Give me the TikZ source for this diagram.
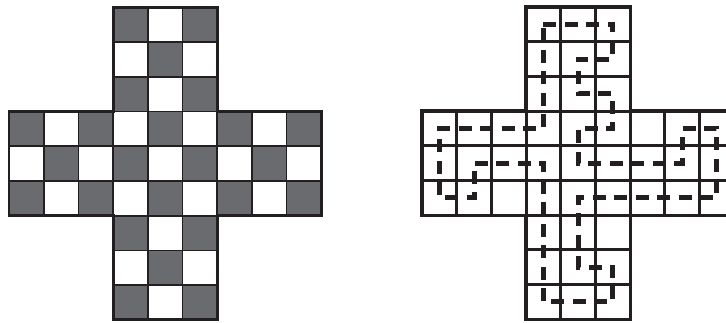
\documentclass[tikz,border=0pt]{standalone}
\usepackage{xcolor}
\usepackage{tikz}
\definecolor{boardgray}{RGB}{106,107,111}
\definecolor{inkblack}{RGB}{35,31,32}

\begin{document}
\begin{tikzpicture}[x=34.7pt, y=-34.7pt,
  gridline/.style={draw=inkblack, line width=1.7pt},
  rim/.style={draw=inkblack, line width=2.8pt, line join=miter},
  tourline/.style={draw=inkblack, line width=5pt, dash pattern=on 13pt off 8.5pt}
]
  \useasboundingbox (0,0) rectangle (20.922,9.280);
  % left board: checkered cross
  \begin{scope}[shift={(0.26,0.216)}]
    \foreach \r in {0,...,8}
      \foreach \c in {0,...,8} {
        \pgfmathtruncatemacro{\incross}{((\r>2)&&(\r<6))||((\c>2)&&(\c<6))}
        \pgfmathtruncatemacro{\isodd}{mod(\r+\c,2)}
        \ifnum\incross=1
          \ifnum\isodd=1 \fill[boardgray] (\c,\r) rectangle ++(1,1); \fi
          \draw[gridline] (\c,\r) rectangle ++(1,1);
        \fi
      }
    \draw[rim] (3,0) -- (6,0) -- (6,3) -- (9,3) -- (9,6) -- (6,6) -- (6,9)
      -- (3,9) -- (3,6) -- (0,6) -- (0,3) -- (3,3) -- cycle;
  \end{scope}
  % right board: empty cross with closed tour
  \begin{scope}[shift={(12.161,0.202)}]
    \foreach \r in {0,...,8}
      \foreach \c in {0,...,8} {
        \pgfmathtruncatemacro{\incross}{((\r>2)&&(\r<6))||((\c>2)&&(\c<6))}
        \ifnum\incross=1
          \draw[gridline, line width=3pt] (\c,\r) rectangle ++(1,1);
        \fi
      }
    \draw[rim, line width=3.4pt] (3,0) -- (6,0) -- (6,3) -- (9,3) -- (9,6) -- (6,6) -- (6,9)
      -- (3,9) -- (3,6) -- (0,6) -- (0,3) -- (3,3) -- cycle;
    \begin{scope}[shift={(0.5,0.5)}]
      \draw[tourline] (3,0) -- (5,0) -- (5,1) -- (4,1) -- (4,2) -- (5,2) -- (5,3)
        -- (4,3) -- (4,4) -- (7,4) -- (7,3) -- (8,3) -- (8,5) -- (4,5) -- (4,7)
        -- (5,7) -- (5,8) -- (3,8) -- (3,4) -- (1,4) -- (1,5) -- (0,5) -- (0,3)
        -- (3,3) -- cycle;
    \end{scope}
  \end{scope}
\end{tikzpicture}
\end{document}
